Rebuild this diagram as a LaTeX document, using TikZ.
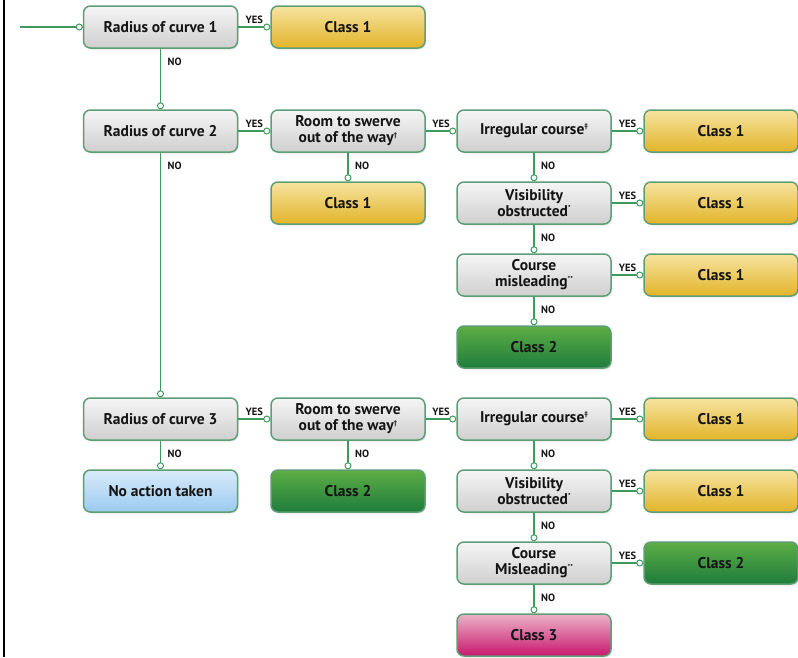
\documentclass[tikz,border=0pt]{standalone}
\usepackage{fontspec}
\setmainfont{PT Sans}
\usetikzlibrary{shadows}
\definecolor{edge}{HTML}{3F9A5E}
\definecolor{boxedge}{HTML}{5E9E74}
\definecolor{txt}{HTML}{141414}
\definecolor{grayT}{HTML}{F5F5F5}
\definecolor{grayB}{HTML}{CFCFCF}
\definecolor{yelT}{HTML}{F6E3A0}
\definecolor{yelB}{HTML}{E2B42A}
\definecolor{grnT}{HTML}{5DAE45}
\definecolor{grnB}{HTML}{1F7C3C}
\definecolor{bluT}{HTML}{D8EBFA}
\definecolor{bluB}{HTML}{9CCAF0}
\definecolor{pnkT}{HTML}{ECB2C8}
\definecolor{pnkB}{HTML}{C8186E}
\newcommand{\fnmark}[1]{\raisebox{0.75ex}{\fontsize{7}{7}\selectfont #1}}
\tikzset{
  box/.style={rounded corners=7pt, minimum width=154pt, minimum height=42pt,
    draw=boxedge, line width=1.5pt, text=txt, align=center, inner sep=1pt,
    font=\bfseries\fontsize{15.5}{16}\selectfont,
    drop shadow={shadow xshift=1pt, shadow yshift=-1.5pt, opacity=0.18}},
  qbox/.style={box, top color=grayT, bottom color=grayB},
  ybox/.style={box, top color=yelT, bottom color=yelB},
  gbox/.style={box, top color=grnT, bottom color=grnB},
  bbox/.style={box, top color=bluT, bottom color=bluB},
  pbox/.style={box, top color=pnkT, bottom color=pnkB},
  conn/.style={draw=edge, line width=1.3pt},
  dot/.style={circle, draw=edge, fill=white, line width=1pt, inner sep=0pt, minimum size=6pt},
  lab/.style={font=\bfseries\fontsize{10.5}{11}\selectfont, text=txt, inner sep=1pt},
}
\begin{document}
\begin{tikzpicture}[x=1pt,y=-1pt]
\useasboundingbox (0,0) rectangle (798,657);
\draw[line width=2.5pt] (4,0) -- (4,657);

% column 1
\node[qbox] (r1) at (160.5,27) {Radius of curve 1};
\node[qbox] (r2) at (160.5,131) {Radius of curve 2};
\node[qbox] (r3) at (160.5,419) {Radius of curve 3};
\node[bbox] (na) at (160.5,491) {No action taken};
% column 2
\node[ybox] (c11) at (348,27) {Class 1};
\node[qbox] (s2) at (348,131) {Room to swerve\\out of the way\fnmark{†}};
\node[ybox] (c12) at (348,203) {Class 1};
\node[qbox] (s3) at (348,419) {Room to swerve\\out of the way\fnmark{†}};
\node[gbox] (c23) at (348,491) {Class 2};
% column 3
\node[qbox] (i2) at (534,131) {Irregular course\fnmark{‡}};
\node[qbox] (v2) at (534,203) {Visibility\\obstructed\fnmark{*}};
\node[qbox] (m2) at (534,275) {Course\\misleading\fnmark{**}};
\node[gbox] (c2b) at (534,347) {Class 2};
\node[qbox] (i3) at (534,419) {Irregular course\fnmark{‡}};
\node[qbox] (v3) at (534,491) {Visibility\\obstructed\fnmark{*}};
\node[qbox] (m3) at (534,563) {Course\\Misleading\fnmark{**}};
\node[pbox] (c3) at (534,635) {Class 3};
% column 4
\node[ybox] (ci2) at (721,131) {Class 1};
\node[ybox] (cv2) at (721,203) {Class 1};
\node[ybox] (cm2) at (721,275) {Class 1};
\node[ybox] (ci3) at (721,419) {Class 1};
\node[ybox] (cv3) at (721,491) {Class 1};
\node[gbox] (cm3) at (721,563) {Class 2};

% entry
\coordinate (start) at (20,27);
\draw[conn] (start) -- (r1.west) node[dot, anchor=east]{};

% YES connectors
\foreach \a/\b in {r1/c11, r2/s2, s2/i2, i2/ci2, v2/cv2, m2/cm2, r3/s3, s3/i3, i3/ci3, v3/cv3, m3/cm3}{
  \draw[conn] (\a.east) -- node[lab, above=2pt]{YES} (\b.west) node[dot, anchor=east]{};
}
% NO connectors
\foreach \a/\b in {r1/r2, r2/r3, r3/na, s2/c12, s3/c23, i2/v2, v2/m2, m2/c2b, i3/v3, v3/m3, m3/c3}{
  \draw[conn] (\a.south) -- (\b.north) node[dot, anchor=south]{};
  \node[lab, anchor=north west] at ([shift={(6pt,-8pt)}]\a.south) {NO};
}
\end{tikzpicture}
\end{document}
